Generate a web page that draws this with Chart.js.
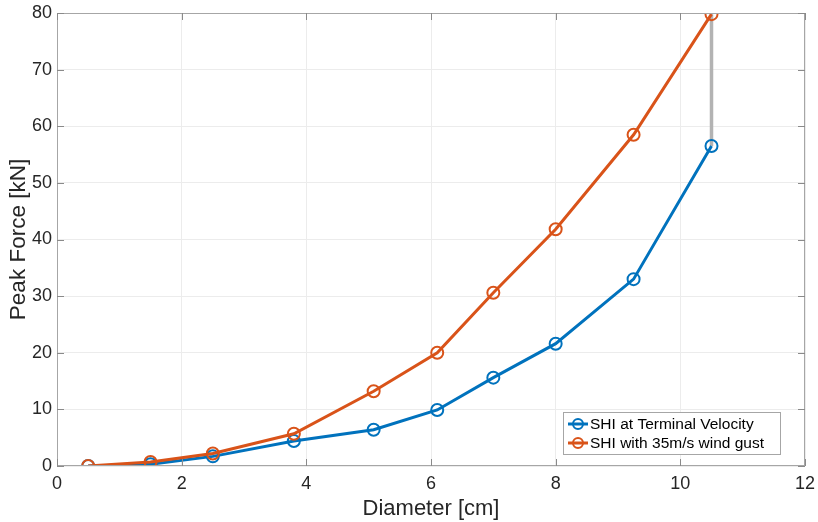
<!DOCTYPE html>
<html><head><meta charset="utf-8">
<script src="https://cdn.jsdelivr.net/npm/chart.js@4.4.0/dist/chart.umd.min.js"></script>
<style>html,body{margin:0;padding:0;background:#fff}#wrap{width:818px;height:522px}</style>
</head><body><div id="wrap"><canvas id="c" width="818" height="522"></canvas></div>
<script>
const diameters = [0.5, 1.5, 2.5, 3.8, 5.08, 6.1, 7.0, 8.0, 9.25, 10.5];
const terminalForce = [0.0, 0.3, 1.7, 4.4, 6.4, 9.9, 15.6, 21.6, 33.0, 56.5];
const gustForce = [0.0, 0.7, 2.2, 5.7, 13.2, 20.0, 30.6, 41.8, 58.5, 79.8];
const seriesLabels = ["SHI at Terminal Velocity", "SHI with 35m/s wind gust"];
const xTicks = [0, 2, 4, 6, 8, 10, 12];
const yTicks = [0, 10, 20, 30, 40, 50, 60, 70, 80];
const gapX = [10.5, 10.5];
const gapY = [56.5, 79.8];

const blue = '#0072BD', orange = '#D95319';
const FONT = '"Liberation Sans", Arial, Helvetica, sans-serif';

const pts = (xs, ys) => xs.map((x, i) => ({x, y: ys[i]}));

const boxPlugin = {
  id: 'box',
  afterDatasetsDraw(chart) {
    const {ctx, chartArea: a, scales: {x, y}} = chart;
    ctx.save();
    ctx.strokeStyle = '#a6a6a6';
    ctx.lineWidth = 1;
    ctx.strokeRect(a.left + 0.5, a.top + 0.5, a.right - a.left - 1, a.bottom - a.top - 1);
    const tl = 7;
    ctx.strokeStyle = '#8a8a8a';
    ctx.beginPath();
    xTicks.forEach(v => {
      const px = Math.round(x.getPixelForValue(v)) + 0.5;
      ctx.moveTo(px, a.bottom); ctx.lineTo(px, a.bottom - tl);
      ctx.moveTo(px, a.top); ctx.lineTo(px, a.top + tl);
    });
    yTicks.forEach(v => {
      const py = Math.round(y.getPixelForValue(v)) + 0.5;
      ctx.moveTo(a.left, py); ctx.lineTo(a.left + tl, py);
      ctx.moveTo(a.right, py); ctx.lineTo(a.right - tl, py);
    });
    ctx.stroke();
    // legend
    const lx = 563, ly = 412, lw = 217, lh = 42;
    ctx.fillStyle = '#fff';
    ctx.fillRect(lx, ly, lw, lh);
    ctx.strokeStyle = '#a6a6a6';
    ctx.strokeRect(lx + 0.5, ly + 0.5, lw, lh);
    const items = [{c: blue, t: seriesLabels[0]}, {c: orange, t: seriesLabels[1]}];
    ctx.font = '15.5px ' + FONT;
    ctx.textBaseline = 'middle';
    items.forEach((it, i) => {
      const cy = ly + 12 + i * 19;
      ctx.strokeStyle = it.c; ctx.lineWidth = 3;
      ctx.beginPath(); ctx.moveTo(lx + 5, cy); ctx.lineTo(lx + 25, cy); ctx.stroke();
      ctx.lineWidth = 2;
      ctx.beginPath(); ctx.arc(lx + 15, cy, 5, 0, Math.PI * 2); ctx.stroke();
      ctx.fillStyle = '#000';
      ctx.fillText(it.t, lx + 27, cy + 1);
    });
    ctx.restore();
  }
};

new Chart(document.getElementById('c'), {
  type: 'line',
  data: {
    datasets: [
      {label: 'gap', data: pts(gapX, gapY), borderColor: '#b3b3b3', borderWidth: 3.5, pointRadius: 0, order: 3},
      {label: seriesLabels[0], data: pts(diameters, terminalForce), borderColor: blue, backgroundColor: 'rgba(0,0,0,0)',
       borderWidth: 3, pointRadius: 6, pointBorderWidth: 2, pointBackgroundColor: 'rgba(0,0,0,0)', pointBorderColor: blue, order: 2},
      {label: seriesLabels[1], data: pts(diameters, gustForce), borderColor: orange, backgroundColor: 'rgba(0,0,0,0)',
       borderWidth: 3, pointRadius: 6, pointBorderWidth: 2, pointBackgroundColor: 'rgba(0,0,0,0)', pointBorderColor: orange, order: 1}
    ]
  },
  options: {
    responsive: false, animation: false, devicePixelRatio: 1,
    layout: {padding: {top: 13, right: 13, left: 0, bottom: 0}},
    plugins: {legend: {display: false}, tooltip: {enabled: false}},
    scales: {
      x: {
        type: 'linear', min: 0, max: 12,
        afterBuildTicks: s => { s.ticks = xTicks.map(v => ({value: v})); },
        afterFit: s => { s.height = 56; s.paddingLeft = 0; s.paddingRight = 0; },
        grid: {color: '#ececec', drawTicks: false, lineWidth: 1},
        border: {display: false},
        ticks: {color: '#262626', font: {size: 18, family: FONT}, padding: 7, maxRotation: 0},
        title: {display: true, text: 'Diameter [cm]', color: '#262626', font: {size: 22, family: FONT}, padding: {top: 0, bottom: 0}}
      },
      y: {
        type: 'linear', min: 0, max: 80,
        afterBuildTicks: s => { s.ticks = yTicks.map(v => ({value: v})); },
        afterFit: s => { s.width = 57; s.paddingTop = 0; s.paddingBottom = 0; },
        grid: {color: '#ececec', drawTicks: false, lineWidth: 1},
        border: {display: false},
        ticks: {color: '#262626', font: {size: 18, family: FONT}, padding: 5},
        title: {display: true, text: 'Peak Force [kN]', color: '#262626', font: {size: 22.5, family: FONT}, padding: {top: 5, bottom: 0}}
      }
    }
  },
  plugins: [boxPlugin]
});
</script></body></html>
